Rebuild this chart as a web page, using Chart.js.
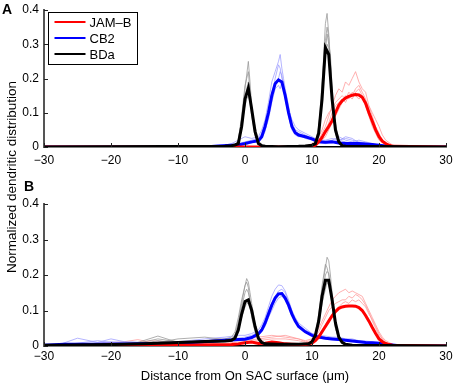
<!DOCTYPE html>
<html><head><meta charset="utf-8">
<script src="https://cdn.jsdelivr.net/npm/chart.js@4/dist/chart.umd.min.js"></script>
<style>
html,body{margin:0;padding:0;background:#fff}
body{width:454px;height:384px;overflow:hidden;position:relative;font-family:"Liberation Sans",Arial,sans-serif}
#wa{position:absolute;left:0;top:0;width:454px;height:180px}
#wb{position:absolute;left:0;top:180px;width:454px;height:204px}
.lab{position:absolute;font-weight:bold;font-size:14px;line-height:14px;color:#000}
#ytitle{position:absolute;left:-88px;top:169px;width:200px;height:16px;line-height:16px;text-align:center;font-size:13.5px;transform:rotate(-90deg);transform-origin:100px 8px;color:#000;white-space:nowrap}
</style>
</head><body>
<div id="wa"><canvas id="ca" width="454" height="180"></canvas></div>
<div id="wb"><canvas id="cb" width="454" height="204"></canvas></div>
<div class="lab" style="left:2px;top:2px">A</div>
<div class="lab" style="left:24px;top:179px">B</div>
<div id="ytitle">Normalized dendritic distribution</div>
<script>
// ---------- Panel A: mean curves ----------
const seriesNames = ['JAM\u2013B', 'CB2', 'BDa'];
const xTicksLabel = 'Distance from On SAC surface (\u03bcm)';

const xBlackA = [-30,-3,-2,-1.5,-1,-0.5,0,0.5,1,1.5,2,2.5,3,5,8,9,10,10.5,11,11.5,12,12.5,13,13.5,14,14.5,15,30];
const yBlackA = [0,0.002,0.004,0.006,0.01,0.06,0.14,0.172,0.11,0.045,0.01,0.004,0.002,0.001,0.002,0.003,0.005,0.01,0.04,0.14,0.29,0.27,0.14,0.05,0.015,0.004,0.002,0];

const xBlueA = [-30,-6,-4,-2,-1,0,1,2,2.5,3,3.5,4,4.5,5,5.5,6,6.5,7,7.5,8,9,10,11,12,13,14,15,16,17,18,19,20,21,22,30];
const yBlueA = [0,0,0.003,0.005,0.006,0.01,0.015,0.018,0.03,0.06,0.1,0.15,0.185,0.196,0.19,0.15,0.1,0.06,0.042,0.035,0.03,0.024,0.015,0.014,0.015,0.012,0.01,0.01,0.01,0.009,0.007,0.005,0.003,0.001,0];

const xRedA = [-30,8,10,10.5,11,11.5,12,12.5,13,13.5,14,14.5,15,15.5,16,16.5,17,17.5,18,18.5,19,19.5,20,20.5,21,21.5,22,30];
const yRedA = [0,0,0.002,0.005,0.015,0.028,0.045,0.06,0.077,0.1,0.122,0.135,0.143,0.148,0.151,0.153,0.152,0.145,0.128,0.1,0.075,0.05,0.03,0.017,0.01,0.005,0.002,0];

// ---------- Panel A: individual traces ----------
const xGrayA = [-2,-1.5,-1,-0.5,0,0.25,0.5,0.75,1,1.5,2,2.5,3,10,10.5,11,11.5,11.75,12,12.25,12.5,12.75,13,13.5,14,14.5,15];
const grayA1 = [0,0.004,0.015,0.07,0.17,0.21,0.25,0.19,0.12,0.04,0.01,0.003,0,0,0.008,0.04,0.16,0.27,0.36,0.39,0.33,0.25,0.15,0.05,0.015,0.004,0];
const grayA2 = [0.002,0.006,0.02,0.09,0.18,0.2,0.22,0.16,0.1,0.05,0.012,0.004,0.001,0.002,0.01,0.05,0.19,0.25,0.31,0.35,0.32,0.22,0.12,0.04,0.01,0.003,0];
const grayA3 = [0,0.003,0.01,0.05,0.13,0.17,0.19,0.15,0.11,0.06,0.02,0.005,0,0.001,0.012,0.06,0.15,0.22,0.28,0.33,0.3,0.27,0.17,0.07,0.02,0.005,0.001];
const grayA4 = [0.001,0.005,0.02,0.08,0.12,0.14,0.15,0.13,0.09,0.035,0.01,0.003,0,0,0.006,0.03,0.13,0.2,0.26,0.3,0.29,0.24,0.14,0.06,0.02,0.006,0.001];

const xLBlueA = [-3,-2,-1,0,1,2,2.5,3,3.5,4,4.5,5,5.25,5.5,5.75,6,6.5,7,7.5,8,8.5,9,10,11,12,13,14,15,16,17,18,19,20,21,22];
const lblueA1 = [0.005,0.01,0.02,0.03,0.025,0.03,0.05,0.08,0.13,0.19,0.22,0.25,0.27,0.23,0.2,0.17,0.12,0.07,0.05,0.045,0.04,0.035,0.025,0.02,0.015,0.02,0.03,0.02,0.015,0.02,0.015,0.01,0.005,0.003,0];
const lblueA2 = [0,0.005,0.01,0.015,0.02,0.025,0.04,0.07,0.11,0.16,0.19,0.2,0.22,0.21,0.18,0.15,0.11,0.08,0.06,0.05,0.045,0.04,0.03,0.02,0.02,0.025,0.02,0.015,0.01,0.01,0.01,0.008,0.005,0.002,0];
const lblueA3 = [0.002,0.005,0.008,0.01,0.015,0.02,0.03,0.05,0.08,0.13,0.17,0.18,0.17,0.19,0.17,0.15,0.1,0.06,0.045,0.04,0.035,0.03,0.02,0.015,0.01,0.015,0.02,0.025,0.02,0.015,0.012,0.008,0.004,0.002,0];
const lblueA4 = [0,0,0.003,0.008,0.012,0.018,0.025,0.045,0.09,0.14,0.2,0.24,0.23,0.2,0.19,0.14,0.09,0.05,0.035,0.03,0.03,0.025,0.02,0.012,0.01,0.012,0.018,0.03,0.025,0.012,0.008,0.005,0.003,0.001,0];

const xPinkA = [9,10,11,11.5,12,12.5,13,13.5,14,14.5,15,15.5,16,16.5,17,17.5,18,18.5,19,19.5,20,20.5,21,22,23];
const pinkA1 = [0,0.005,0.02,0.04,0.06,0.09,0.12,0.15,0.17,0.16,0.19,0.18,0.2,0.22,0.19,0.17,0.16,0.12,0.09,0.06,0.04,0.02,0.01,0.003,0];
const pinkA2 = [0.002,0.01,0.03,0.05,0.08,0.1,0.11,0.13,0.14,0.15,0.14,0.16,0.15,0.17,0.18,0.16,0.14,0.11,0.08,0.05,0.03,0.02,0.01,0.005,0.001];
const pinkA3 = [0,0.003,0.01,0.02,0.03,0.05,0.07,0.09,0.11,0.13,0.15,0.14,0.16,0.15,0.14,0.15,0.13,0.12,0.1,0.08,0.06,0.035,0.02,0.006,0];
const pinkA4 = [0,0.006,0.015,0.03,0.05,0.07,0.1,0.12,0.13,0.14,0.13,0.15,0.14,0.16,0.17,0.15,0.12,0.09,0.06,0.04,0.02,0.012,0.006,0.002,0];

// ---------- Panel B: mean curves ----------
const xBlackB = [-30,-20,-15,-10,-6,-3,-2,-1.5,-1,-0.5,0,0.5,1,1.5,2,2.5,3,5,8,9.5,10,10.5,11,11.5,12,12.5,13,13.5,14,14.5,15,16,30];
const yBlackB = [0.002,0.004,0.006,0.01,0.013,0.014,0.016,0.022,0.045,0.09,0.125,0.13,0.1,0.055,0.022,0.01,0.006,0.005,0.005,0.006,0.012,0.03,0.07,0.14,0.185,0.185,0.13,0.065,0.025,0.01,0.005,0.002,0];

const xBlueB = [-30,-27,-20,-15,-10,-6,-3,-2,-1,0,1,2,2.5,3,3.5,4,4.5,5,5.5,6,6.5,7,7.5,8,9,10,11,12,13,14,15,16,17,18,19,20,21,22,23,30];
const yBlueB = [0.002,0.005,0.005,0.006,0.008,0.012,0.016,0.017,0.018,0.019,0.024,0.034,0.045,0.065,0.09,0.115,0.135,0.147,0.148,0.135,0.115,0.09,0.07,0.055,0.04,0.03,0.025,0.022,0.02,0.018,0.016,0.014,0.012,0.01,0.009,0.008,0.005,0.003,0.001,0];

const xRedB = [-30,-10,-2,-1,0,1,2,3,4,5,6,7,8,9,10,10.5,11,11.5,12,12.5,13,13.5,14,14.5,15,15.5,16,16.5,17,17.5,18,18.5,19,19.5,20,20.5,21,21.5,22,30];
const yRedB = [0,0.002,0.004,0.006,0.009,0.011,0.007,0.008,0.011,0.009,0.006,0.005,0.004,0.004,0.008,0.015,0.025,0.04,0.055,0.07,0.085,0.097,0.106,0.11,0.112,0.113,0.113,0.112,0.108,0.1,0.086,0.07,0.052,0.035,0.02,0.012,0.007,0.004,0.002,0];

// ---------- Panel B: individual traces ----------
const xGrayB = [-28,-20,-16,-13,-10,-6,-3,-2,-1.5,-1,-0.5,0,0.25,0.5,0.75,1,1.5,2,2.5,3,5,8,10,10.5,11,11.5,12,12.25,12.5,12.75,13,13.5,14,14.5,15,16];
const grayB1 = [0,0.003,0.01,0.028,0.01,0.015,0.02,0.025,0.04,0.08,0.13,0.17,0.19,0.18,0.15,0.12,0.06,0.025,0.01,0.006,0.004,0.004,0.01,0.03,0.08,0.16,0.22,0.25,0.24,0.2,0.15,0.07,0.03,0.012,0.006,0.002];
const grayB2 = [0.002,0.005,0.006,0.01,0.02,0.025,0.018,0.02,0.03,0.06,0.11,0.15,0.16,0.15,0.13,0.1,0.055,0.02,0.01,0.008,0.006,0.005,0.012,0.035,0.09,0.17,0.23,0.22,0.2,0.16,0.12,0.06,0.025,0.01,0.005,0.002];
const grayB3 = [0,0.002,0.004,0.015,0.008,0.01,0.012,0.015,0.025,0.05,0.08,0.11,0.12,0.12,0.11,0.085,0.05,0.02,0.008,0.005,0.004,0.003,0.008,0.025,0.06,0.12,0.16,0.18,0.17,0.15,0.11,0.05,0.02,0.008,0.003,0.001];
const grayB4 = [0.001,0.004,0.008,0.02,0.012,0.012,0.015,0.018,0.03,0.07,0.12,0.17,0.18,0.165,0.12,0.08,0.04,0.015,0.008,0.005,0.005,0.004,0.01,0.03,0.07,0.14,0.2,0.21,0.205,0.17,0.12,0.05,0.02,0.008,0.004,0.001];

const xLBlueB = [-28,-25,-22,-20,-17,-14,-10,-6,-3,-1,0,1,2,2.5,3,3.5,4,4.5,5,5.5,6,6.5,7,7.5,8,9,10,11,12,13,14,15,16,17,18,19,20,21,22,23];
const lblueB1 = [0.002,0.022,0.01,0.02,0.008,0.01,0.012,0.02,0.025,0.03,0.03,0.035,0.045,0.06,0.08,0.11,0.14,0.16,0.172,0.17,0.155,0.13,0.1,0.08,0.065,0.05,0.035,0.03,0.028,0.025,0.025,0.02,0.02,0.015,0.014,0.012,0.01,0.006,0.003,0];
const lblueB2 = [0,0.008,0.015,0.01,0.012,0.008,0.01,0.015,0.02,0.022,0.025,0.03,0.04,0.05,0.07,0.1,0.12,0.14,0.155,0.16,0.15,0.125,0.1,0.075,0.06,0.045,0.035,0.028,0.025,0.022,0.02,0.018,0.016,0.014,0.012,0.01,0.008,0.005,0.002,0];
const lblueB3 = [0.001,0.005,0.008,0.012,0.006,0.01,0.008,0.012,0.015,0.015,0.018,0.022,0.03,0.04,0.055,0.08,0.1,0.12,0.135,0.14,0.13,0.115,0.09,0.07,0.055,0.04,0.03,0.022,0.02,0.018,0.016,0.015,0.013,0.012,0.01,0.008,0.006,0.004,0.002,0];

const xPinkB = [-28,-18,-16,-14,-10,-6,-4,-2,0,2,4,6,8,9,10,11,11.5,12,12.5,13,13.5,14,14.5,15,15.5,16,16.5,17,17.5,18,18.5,19,19.5,20,20.5,21,22,23];
const pinkB1 = [0,0.012,0.018,0.01,0.008,0.012,0.02,0.015,0.02,0.025,0.03,0.025,0.02,0.015,0.02,0.05,0.07,0.09,0.11,0.13,0.14,0.15,0.155,0.16,0.15,0.155,0.15,0.145,0.14,0.12,0.1,0.08,0.06,0.04,0.025,0.015,0.005,0];
const pinkB2 = [0.002,0.006,0.01,0.015,0.01,0.008,0.012,0.018,0.015,0.02,0.025,0.03,0.02,0.012,0.015,0.04,0.06,0.08,0.1,0.11,0.12,0.125,0.13,0.13,0.14,0.135,0.145,0.14,0.13,0.115,0.095,0.07,0.05,0.03,0.02,0.01,0.004,0];
const pinkB3 = [0,0.004,0.008,0.006,0.005,0.01,0.015,0.01,0.012,0.015,0.02,0.02,0.015,0.01,0.012,0.03,0.045,0.06,0.075,0.09,0.1,0.11,0.12,0.125,0.12,0.13,0.125,0.13,0.12,0.11,0.09,0.075,0.055,0.035,0.02,0.01,0.004,0];

// ---------- axis ticks ----------
const xTickValues = [-30,-20,-10,0,10,20,30];
const yTickValues = [0,0.1,0.2,0.3,0.4];

// ---------- helpers ----------
const FONT = '"Liberation Sans", Arial, Helvetica, sans-serif';
const C_RED = '#ff0000', C_BLUE = '#0000ff', C_BLACK = '#000000';
const C_PINK = 'rgba(255,150,150,0.85)', C_LBLUE = 'rgba(150,150,255,0.8)', C_GRAY = 'rgba(150,150,150,0.85)';

function pts(xs, ys){ return xs.map((x,i)=>({x:x, y:ys[i]})); }
function mean(label, xs, ys, color, order){
  return {label, data: pts(xs,ys), borderColor: color, backgroundColor: color, borderWidth: 3, pointRadius: 0, tension: 0, fill: false, order, isMean: true};
}
function trace(xs, ys, color){
  return {label: '', data: pts(xs,ys), borderColor: color, borderWidth: 0.9, pointRadius: 0, tension: 0, fill: false, order: 5};
}

const inwardTicks = {
  id: 'inwardTicks',
  afterDatasetsDraw(chart){
    const {ctx, chartArea: a, scales: {x, y}} = chart;
    ctx.save();
    ctx.strokeStyle = '#222'; ctx.lineWidth = 1;
    y.ticks.forEach(t => {
      const py = Math.round(y.getPixelForValue(t.value)) + 0.5;
      ctx.beginPath(); ctx.moveTo(a.left, py); ctx.lineTo(a.left + 4, py); ctx.stroke();
    });
    x.ticks.forEach(t => {
      const px = Math.round(x.getPixelForValue(t.value)) + 0.5;
      ctx.beginPath(); ctx.moveTo(px, a.bottom); ctx.lineTo(px, a.bottom - 4); ctx.stroke();
    });
    ctx.restore();
  }
};

const boxLegend = {
  id: 'boxLegend',
  afterDraw(chart, args, opts){
    if (!opts || !opts.show) return;
    const ctx = chart.ctx;
    const items = chart.data.datasets.filter(d => d.isMean);
    const order = ['JAM\u2013B','CB2','BDa'];
    items.sort((p,q) => order.indexOf(p.label) - order.indexOf(q.label));
    const bx = 48.5, by = 12.5, bw = 89, bh = 52;
    ctx.save();
    ctx.fillStyle = '#fff'; ctx.fillRect(bx, by, bw, bh);
    ctx.strokeStyle = '#000'; ctx.lineWidth = 1; ctx.strokeRect(bx, by, bw, bh);
    ctx.font = '13px ' + FONT; ctx.textBaseline = 'middle'; ctx.fillStyle = '#000';
    items.forEach((d, i) => {
      const yy = by + 9.5 + i * 16;
      ctx.strokeStyle = d.borderColor; ctx.lineWidth = 2;
      ctx.beginPath(); ctx.moveTo(bx + 6, yy); ctx.lineTo(bx + 37, yy); ctx.stroke();
      ctx.fillStyle = '#000'; ctx.fillText(d.label, bx + 41, yy + 1);
    });
    ctx.restore();
  }
};

function makeChart(id, datasets, opt){
  return new Chart(document.getElementById(id), {
    type: 'line',
    data: { datasets },
    plugins: [inwardTicks, boxLegend],
    options: {
      responsive: false, animation: false, devicePixelRatio: 1,
      layout: { padding: { left: 0, right: 8, top: opt.top, bottom: 0 } },
      plugins: { legend: { display: false }, tooltip: { enabled: false }, boxLegend: { show: opt.legend } },
      scales: {
        x: {
          type: 'linear', min: -30, max: 30,
          afterBuildTicks: s => { s.ticks = xTickValues.map(v => ({value: v})); },
          afterFit: s => { s.height = opt.xh; s.paddingLeft = 0; s.paddingRight = 0; },
          ticks: { color: '#000', padding: opt.xpad, maxRotation: 0, autoSkip: false,
                   font: { family: FONT, size: 12 },
                   callback: v => v < 0 ? '\u2212' + Math.abs(v) : String(v) },
          grid: { display: false, drawTicks: false },
          border: { display: true, color: '#000', width: 1.5 },
          title: { display: opt.xtitle, text: xTicksLabel, color: '#000', font: { family: FONT, size: 13 }, padding: { top: 1, bottom: 0 } }
        },
        y: {
          min: 0, max: 0.4,
          afterBuildTicks: s => { s.ticks = yTickValues.map(v => ({value: v})); },
          afterFit: s => { s.width = 44; s.paddingTop = 0; s.paddingBottom = 0; },
          ticks: { color: '#000', padding: 5, font: { family: FONT, size: 12 },
                   callback: v => v === 0 ? '0' : v.toFixed(1) },
          grid: { display: false, drawTicks: false },
          border: { display: true, color: '#555', width: 2 }
        }
      }
    }
  });
}

const dsA = [
  trace(xGrayA, grayA1, C_GRAY), trace(xGrayA, grayA2, C_GRAY), trace(xGrayA, grayA3, C_GRAY), trace(xGrayA, grayA4, C_GRAY),
  trace(xLBlueA, lblueA1, C_LBLUE), trace(xLBlueA, lblueA2, C_LBLUE), trace(xLBlueA, lblueA3, C_LBLUE), trace(xLBlueA, lblueA4, C_LBLUE),
  trace(xPinkA, pinkA1, C_PINK), trace(xPinkA, pinkA2, C_PINK), trace(xPinkA, pinkA3, C_PINK), trace(xPinkA, pinkA4, C_PINK),
  mean(seriesNames[0], xRedA, yRedA, C_RED, 1),
  mean(seriesNames[1], xBlueA, yBlueA, C_BLUE, 2),
  mean(seriesNames[2], xBlackA, yBlackA, C_BLACK, 0)
];
const dsB = [
  trace(xGrayB, grayB1, C_GRAY), trace(xGrayB, grayB2, C_GRAY), trace(xGrayB, grayB3, C_GRAY), trace(xGrayB, grayB4, C_GRAY),
  trace(xLBlueB, lblueB1, C_LBLUE), trace(xLBlueB, lblueB2, C_LBLUE), trace(xLBlueB, lblueB3, C_LBLUE),
  trace(xPinkB, pinkB1, C_PINK), trace(xPinkB, pinkB2, C_PINK), trace(xPinkB, pinkB3, C_PINK),
  mean(seriesNames[0], xRedB, yRedB, C_RED, 1),
  mean(seriesNames[1], xBlueB, yBlueB, C_BLUE, 2),
  mean(seriesNames[2], xBlackB, yBlackB, C_BLACK, 0)
];

makeChart('ca', dsA, { top: 10, xh: 33, xpad: 6, legend: true, xtitle: false });
makeChart('cb', dsB, { top: 24, xh: 38, xpad: 3, legend: false, xtitle: true });
</script>
</body></html>
